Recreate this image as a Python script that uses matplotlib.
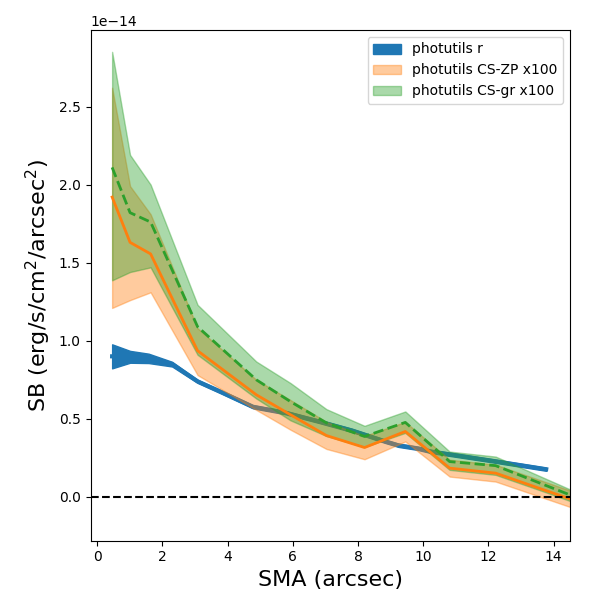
import numpy as np
import matplotlib
matplotlib.use('Agg')
import matplotlib.pyplot as plt

# photutils r profile (units of 1e-14)
sma_r = [0.46, 1.01, 1.58, 2.3, 3.08, 3.77, 4.78, 5.80, 6.81, 7.82, 8.84, 9.24, 9.85, 10.25, 11.27, 12.28, 13.77]
sb_r = [0.90, 0.897, 0.887, 0.85, 0.74, 0.675, 0.577, 0.538, 0.483, 0.425, 0.355, 0.33, 0.31, 0.29, 0.258, 0.226, 0.177]
err_r = [0.077, 0.038, 0.03, 0.015, 0.01, 0.01, 0.01, 0.01, 0.01, 0.01, 0.01, 0.01, 0.01, 0.01, 0.01, 0.01, 0.01]

# CS profiles x100
sma_cs = [0.46, 1.01, 1.64, 3.08, 4.88, 5.93, 7.03, 8.2, 9.45, 10.81, 12.22, 13.75, 15.35]
sb_zp = [1.92, 1.63, 1.556, 0.936, 0.654, 0.526, 0.393, 0.316, 0.419, 0.184, 0.152, 0.041, -0.074]
zp_lo = [1.21, 1.26, 1.31, 0.78, 0.557, 0.43, 0.307, 0.241, 0.355, 0.13, 0.098, -0.011, -0.125]
zp_hi = [2.62, 1.99, 1.81, 1.08, 0.75, 0.62, 0.48, 0.39, 0.48, 0.238, 0.206, 0.095, -0.02]
sb_gr = [2.11, 1.82, 1.76, 1.09, 0.75, 0.61, 0.474, 0.387, 0.477, 0.226, 0.20, 0.074, -0.057]
gr_lo = [1.387, 1.44, 1.47, 0.91, 0.63, 0.49, 0.39, 0.32, 0.41, 0.173, 0.141, 0.03, -0.09]
gr_hi = [2.85, 2.19, 2.0, 1.23, 0.867, 0.729, 0.562, 0.455, 0.547, 0.29, 0.258, 0.117, -0.03]

unit = 1e-14
sma_r = np.array(sma_r)
sb_r = np.array(sb_r) * unit
err_r = np.array(err_r) * unit
sma_cs = np.array(sma_cs)

fig, ax = plt.subplots(figsize=(6, 6), dpi=100)
fig.subplots_adjust(left=0.151, right=0.95, top=0.95, bottom=0.099)

ax.fill_between(sma_r, sb_r - err_r, sb_r + err_r, color='C0', label='photutils r', zorder=1)
ax.plot(sma_r, sb_r, color='C0', lw=3, zorder=1.1)

ax.fill_between(sma_cs, np.array(zp_lo) * unit, np.array(zp_hi) * unit, color='C1', alpha=0.4,
                label='photutils CS-ZP x100', zorder=1.2)
ax.fill_between(sma_cs, np.array(gr_lo) * unit, np.array(gr_hi) * unit, color='C2', alpha=0.4,
                label='photutils CS-gr x100', zorder=1.3)
ax.plot(sma_cs, np.array(sb_zp) * unit, color='C1', lw=2, zorder=2)
ax.plot(sma_cs, np.array(sb_gr) * unit, color='C2', lw=2, ls='--', zorder=2.1)

ax.axhline(0, color='k', ls='--', lw=1.5, zorder=3)

ax.set_xlim(-0.2, 14.5)
ax.set_ylim(-0.28e-14, 2.99e-14)
ax.set_xlabel('SMA (arcsec)', fontsize=16)
ax.set_ylabel('SB (erg/s/cm$^2$/arcsec$^2$)', fontsize=16)
ax.legend(loc='upper right')

fig.savefig('out.png')
